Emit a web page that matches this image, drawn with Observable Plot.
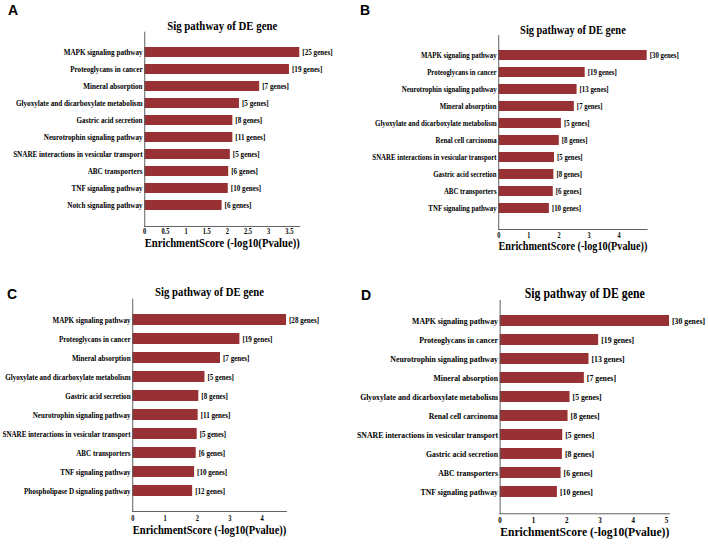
<!DOCTYPE html>
<html>
<head>
<meta charset="utf-8">
<script src="https://cdn.jsdelivr.net/npm/d3@7"></script>
<script src="https://cdn.jsdelivr.net/npm/@observablehq/plot@0.6"></script>
<style>
  html, body { margin: 0; padding: 0; background: #fff; }
  #root { position: relative; width: 708px; height: 544px; overflow: hidden; background: #fff; }
  .panel { position: absolute; transform-origin: 0 0; }
  .panel svg { max-width: none !important; display: block; }
  .letter { position: absolute; font-family: "Liberation Sans", Arial, sans-serif; font-weight: bold; font-size: 14px; line-height: 1; color: #000; }
</style>
</head>
<body>
<div id="root"></div>
<script>
// ---------- data ----------
const chartTitle = "Sig pathway of DE gene";
const xAxisTitle = "EnrichmentScore (-log10(Pvalue))";

const pathwaysA = ["MAPK signaling pathway", "Proteoglycans in cancer", "Mineral absorption", "Glyoxylate and dicarboxylate metabolism", "Gastric acid secretion", "Neurotrophin signaling pathway", "SNARE interactions in vesicular transport", "ABC transporters", "TNF signaling pathway", "Notch signaling pathway"];
const scoresA = [3.75, 3.50, 2.78, 2.29, 2.13, 2.13, 2.07, 2.03, 2.02, 1.87];
const genesA = [25, 19, 7, 5, 8, 11, 5, 6, 10, 6];
const ticksA = [0, 0.5, 1, 1.5, 2, 2.5, 3, 3.5];

const pathwaysB = ["MAPK signaling pathway", "Proteoglycans in cancer", "Neurotrophin signaling pathway", "Mineral absorption", "Glyoxylate and dicarboxylate metabolism", "Renal cell carcinoma", "SNARE interactions in vesicular transport", "Gastric acid secretion", "ABC transporters", "TNF signaling pathway"];
const scoresB = [4.93, 2.87, 2.60, 2.51, 2.08, 2.01, 1.85, 1.83, 1.81, 1.68];
const genesB = [30, 19, 13, 7, 5, 8, 5, 8, 6, 10];
const ticksB = [0, 1, 2, 3, 4];

const pathwaysC = ["MAPK signaling pathway", "Proteoglycans in cancer", "Mineral absorption", "Glyoxylate and dicarboxylate metabolism", "Gastric acid secretion", "Neurotrophin signaling pathway", "SNARE interactions in vesicular transport", "ABC transporters", "TNF signaling pathway", "Phospholipase D signaling pathway"];
const scoresC = [4.75, 3.31, 2.71, 2.23, 2.04, 2.02, 1.99, 1.96, 1.91, 1.85];
const genesC = [28, 19, 7, 5, 8, 11, 5, 6, 10, 12];
const ticksC = [0, 1, 2, 3, 4];

const pathwaysD = ["MAPK signaling pathway", "Proteoglycans in cancer", "Neurotrophin signaling pathway", "Mineral absorption", "Glyoxylate and dicarboxylate metabolism", "Renal cell carcinoma", "SNARE interactions in vesicular transport", "Gastric acid secretion", "ABC transporters", "TNF signaling pathway"];
const scoresD = [5.09, 2.96, 2.67, 2.53, 2.10, 2.04, 1.88, 1.87, 1.83, 1.72];
const genesD = [30, 19, 13, 7, 5, 8, 5, 8, 6, 10];
const ticksD = [0, 1, 2, 3, 4, 5];

const panelLetters = ["A", "B", "C", "D"];

// ---------- layout (final page pixels) ----------
const S = 0.86; // horizontal squeeze of the original figure
const BAR = "#983133";
const AXIS = "#555";
const SERIF = "'Liberation Serif', 'Times New Roman', serif";

const layouts = [
  {left: 0,   top: 0,   h: 272, fl: 144.3, fr: 299.3, ft: 31.7, fb: 226,   titleY: 21,   tickY: 230.5, axisY: 247,   k: 1.00, lx: 8,   ly: 3},
  {left: 354, top: 0,   h: 272, fl: 144.3, fr: 292.7, ft: 35,   fb: 229,   titleY: 25,   tickY: 234.5, axisY: 249.5, k: 0.96, lx: 360, ly: 3},
  {left: 0,   top: 272, h: 272, fl: 132.3, fr: 286,   ft: 26.7, fb: 239,   titleY: 15,   tickY: 245.5, axisY: 262,   k: 0.99, lx: 7,   ly: 287},
  {left: 354, top: 272, h: 272, fl: 145.7, fr: 315,   ft: 28,   fb: 241.3, titleY: 15.7, tickY: 247.5, axisY: 264,   k: 1.09, lx: 361, ly: 288}
];

const series = [
  {pathways: pathwaysA, scores: scoresA, genes: genesA, ticks: ticksA},
  {pathways: pathwaysB, scores: scoresB, genes: genesB, ticks: ticksB},
  {pathways: pathwaysC, scores: scoresC, genes: genesC, ticks: ticksC},
  {pathways: pathwaysD, scores: scoresD, genes: genesD, ticks: ticksD}
];

const root = document.getElementById("root");

series.forEach((s, i) => {
  const L = layouts[i];
  const data = s.pathways.map((p, j) => ({pathway: p, score: s.scores[j], genes: s.genes[j]}));
  const W = 354 / S;
  const labelFs = 8.3 * L.k;
  const tickFs = 7.5 * L.k;
  const titleFs = 12.6 * L.k;
  const axisFs = 12.4 * L.k;

  const chart = Plot.plot({
    width: W,
    height: L.h,
    marginLeft: L.fl / S,
    marginRight: W - L.fr / S,
    marginTop: L.ft,
    marginBottom: L.h - L.fb,
    style: {fontFamily: SERIF, fontWeight: "bold", background: "transparent", color: "#000", overflow: "visible", maxWidth: "none"},
    x: {domain: [0, d3.max(s.scores)]},
    y: {domain: s.pathways, paddingInner: 0.4, paddingOuter: 0.63},
    marks: [
      Plot.barX(data, {x: "score", y: "pathway", fill: BAR}),
      Plot.text(data, {x: "score", y: "pathway", text: d => `[${d.genes} genes]`, dx: 3, textAnchor: "start", fontSize: labelFs, fontWeight: "bold", fill: "#000"}),
      Plot.axisY({tickSize: 0, tickPadding: 2.5, fontSize: labelFs, fontWeight: "bold", label: null}),
      Plot.axisX({ticks: s.ticks, tickSize: 0, tickPadding: L.tickY - L.fb - 0.35 * tickFs, fontSize: tickFs, fontWeight: "bold", tickFormat: d => String(d), label: null}),
      Plot.frame({anchor: "left", stroke: AXIS}),
      Plot.frame({anchor: "bottom", stroke: AXIS}),
      Plot.text([chartTitle], {frameAnchor: "top", dy: L.titleY - L.ft, fontSize: titleFs, fontWeight: "bold", fill: "#000"}),
      Plot.text([xAxisTitle], {frameAnchor: "bottom", dy: L.axisY - L.fb, fontSize: axisFs, fontWeight: "bold", fill: "#000"})
    ]
  });

  const wrap = document.createElement("div");
  wrap.className = "panel";
  wrap.style.left = L.left + "px";
  wrap.style.top = L.top + "px";
  wrap.style.width = W + "px";
  wrap.style.height = L.h + "px";
  wrap.style.transform = `scaleX(${S})`;
  wrap.appendChild(chart);
  root.appendChild(wrap);

  const letter = document.createElement("div");
  letter.className = "letter";
  letter.style.left = L.lx + "px";
  letter.style.top = L.ly + "px";
  letter.textContent = panelLetters[i];
  root.appendChild(letter);
});
</script>
</body>
</html>
